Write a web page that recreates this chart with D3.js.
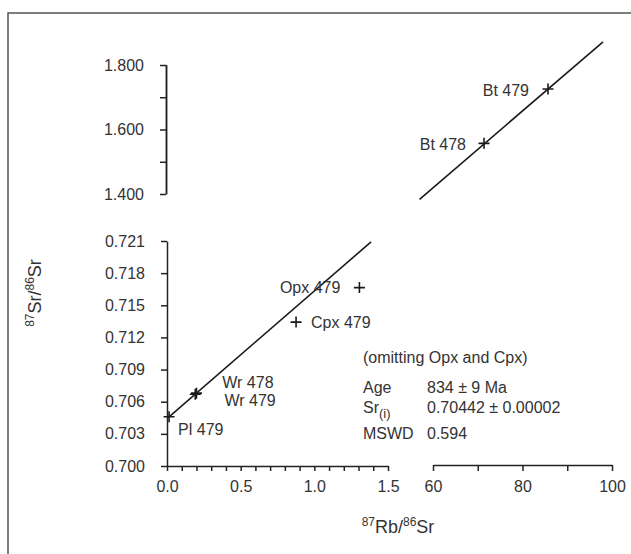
<!DOCTYPE html>
<html>
<head>
<meta charset="utf-8">
<script src="https://cdn.jsdelivr.net/npm/d3@7"></script>
<style>
  html, body { margin: 0; padding: 0; background: #fff; }
  svg { display: block; font-family: "Liberation Sans", Arial, sans-serif; }
  .axis path, .axis line { stroke: #222; stroke-width: 1.5; }
  .axis text { fill: #333; font-size: 16px; font-family: "Liberation Sans", Arial, sans-serif; }
  .lbl { fill: #333; font-size: 16px; }
</style>
</head>
<body>
<script>
// Rb–Sr mineral isochron, samples 478 / 479
const lowSamples   = ["Pl 479", "Wr 478", "Wr 479", "Cpx 479", "Opx 479"];
const lowRbSr      = [0.014, 0.192, 0.200, 0.876, 1.306];
const lowSrSr      = [0.70460, 0.70670, 0.70680, 0.71343, 0.71665];

const highSamples  = ["Bt 478", "Bt 479"];
const highRbSr     = [71.4, 85.7];
const highSrSr     = [1.557, 1.7256];

// isochron result (omitting Opx and Cpx)
const AGE_MA = 834;
const SR_INITIAL = 0.70442;
const LAMBDA_RB = 1.42e-11;
const lowLineRb  = [0.012, 1.385];
const highLineRb = [57, 98];

const lowYTicks   = [0.700, 0.703, 0.706, 0.709, 0.712, 0.715, 0.718, 0.721];
const highYTicks  = [1.4, 1.5, 1.6, 1.7, 1.8];
const highYLabels = [1.4, 1.6, 1.8];
const lowXTicks   = d3.range(0, 16).map(i => i / 10);
const lowXLabels  = [0, 0.5, 1.0, 1.5];
const highXTicks  = [60, 70, 80, 90, 100];
const highXLabels = [60, 80, 100];

const W = 631, H = 554;
const svg = d3.select("body").append("svg").attr("width", W).attr("height", H);

// outer frame
svg.append("rect").attr("x", 8).attr("y", 13).attr("width", 700).attr("height", 600)
  .attr("fill", "none").attr("stroke", "#4d574d").attr("stroke-width", 1.5);

const xLow  = d3.scaleLinear().domain([0, 1.5]).range([167, 388]);
const xHigh = d3.scaleLinear().domain([60, 100]).range([433, 612]);
const yLow  = d3.scaleLinear().domain([0.700, 0.721]).range([466, 241]);
const yHigh = d3.scaleLinear().domain([1.4, 1.8]).range([194, 65]);

const slope = Math.exp(LAMBDA_RB * AGE_MA * 1e6) - 1;
const iso = rb => SR_INITIAL + slope * rb;

const fmt3 = d3.format(".3f");
const near = (v, arr) => arr.some(a => Math.abs(a - v) < 1e-9);

// axes
svg.append("g").attr("class", "axis").attr("transform", `translate(${xLow(0)},0)`)
  .call(d3.axisLeft(yLow).tickValues(lowYTicks).tickFormat(fmt3).tickSize(6).tickSizeOuter(0).tickPadding(16));
const gHighY = svg.append("g").attr("class", "axis").attr("transform", `translate(${xLow(0) - 1},0)`)
  .call(d3.axisLeft(yHigh).tickValues(highYTicks)
    .tickFormat(d => near(d, highYLabels) ? fmt3(d) : "").tickSize(6).tickSizeOuter(0).tickPadding(16));
gHighY.append("line").attr("x1", 0.5).attr("x2", 0.5).attr("y1", yHigh(1.8)).attr("y2", yHigh(1.4));
svg.append("g").attr("class", "axis").attr("transform", `translate(0,${yLow(0.700)})`)
  .call(d3.axisBottom(xLow).tickValues(lowXTicks)
    .tickFormat(d => near(d, lowXLabels) ? d3.format(".1f")(d) : "").tickSize(5).tickSizeOuter(0).tickPadding(10));
svg.append("g").attr("class", "axis").attr("transform", `translate(0,${yLow(0.700) - 1})`)
  .call(d3.axisBottom(xHigh).tickValues(highXTicks)
    .tickFormat(d => near(d, highXLabels) ? d : "").tickSize(6).tickSizeOuter(0).tickPadding(10));

// isochron lines
const lineLow = d3.line().x(d => xLow(d)).y(d => yLow(iso(d)));
const lineHigh = d3.line().x(d => xHigh(d)).y(d => yHigh(iso(d)));
svg.append("path").attr("d", lineLow(lowLineRb)).attr("fill", "none").attr("stroke", "#1a1a1a").attr("stroke-width", 1.6);
svg.append("path").attr("d", lineHigh(highLineRb)).attr("fill", "none").attr("stroke", "#1a1a1a").attr("stroke-width", 1.6);

// data crosses
const arm = 5.5;
function crosses(xs, ys, xS, yS) {
  xs.forEach((x, i) => {
    const cx = xS(x), cy = yS(ys[i]);
    svg.append("path").attr("d", `M${cx - arm},${cy}H${cx + arm}M${cx},${cy - arm}V${cy + arm}`)
      .attr("stroke", "#1a1a1a").attr("stroke-width", 1.6).attr("fill", "none");
  });
}
crosses(lowRbSr, lowSrSr, xLow, yLow);
crosses(highRbSr, highSrSr, xHigh, yHigh);

// sample labels (offsets relative to each cross)
const lowOffsets = [[9, 18, "start"], [27, -6, "start"], [28, 13, "start"], [15, 6, "start"], [-19, 5, "end"]];
lowSamples.forEach((s, i) => {
  const o = lowOffsets[i];
  svg.append("text").attr("class", "lbl").attr("x", xLow(lowRbSr[i]) + o[0]).attr("y", yLow(lowSrSr[i]) + o[1])
    .attr("text-anchor", o[2]).text(s);
});
const highOffsets = [[-18, 7, "end"], [-19, 7, "end"]];
highSamples.forEach((s, i) => {
  const o = highOffsets[i];
  svg.append("text").attr("class", "lbl").attr("x", xHigh(highRbSr[i]) + o[0]).attr("y", yHigh(highSrSr[i]) + o[1])
    .attr("text-anchor", o[2]).text(s);
});

// isochron statistics
const sx = 363, vx = 427;
svg.append("text").attr("class", "lbl").attr("x", sx).attr("y", 363).text("(omitting Opx and Cpx)");
svg.append("text").attr("class", "lbl").attr("x", sx).attr("y", 393).text("Age");
svg.append("text").attr("class", "lbl").attr("x", vx).attr("y", 393).text(`${AGE_MA} ± 9 Ma`);
const srT = svg.append("text").attr("class", "lbl").attr("x", sx).attr("y", 413);
srT.append("tspan").text("Sr");
srT.append("tspan").attr("dy", 5).style("font-size", "13px").text("(i)");
svg.append("text").attr("class", "lbl").attr("x", vx).attr("y", 413).text(`${SR_INITIAL.toFixed(5)} ± 0.00002`);
svg.append("text").attr("class", "lbl").attr("x", sx).attr("y", 439).text("MSWD");
svg.append("text").attr("class", "lbl").attr("x", vx).attr("y", 439).text("0.594");

// axis titles
const xt = svg.append("text").attr("class", "lbl").attr("x", 398).attr("y", 533)
  .attr("text-anchor", "middle").style("font-size", "18px");
xt.append("tspan").attr("dy", -7).style("font-size", "12px").text("87");
xt.append("tspan").attr("dy", 7).text("Rb/");
xt.append("tspan").attr("dy", -7).style("font-size", "12px").text("86");
xt.append("tspan").attr("dy", 7).text("Sr");

const yt = svg.append("text").attr("class", "lbl")
  .attr("transform", "translate(41,293) rotate(-90)").attr("text-anchor", "middle").style("font-size", "18px");
yt.append("tspan").attr("dy", -7).style("font-size", "12px").text("87");
yt.append("tspan").attr("dy", 7).text("Sr/");
yt.append("tspan").attr("dy", -7).style("font-size", "12px").text("86");
yt.append("tspan").attr("dy", 7).text("Sr");
</script>
</body>
</html>
